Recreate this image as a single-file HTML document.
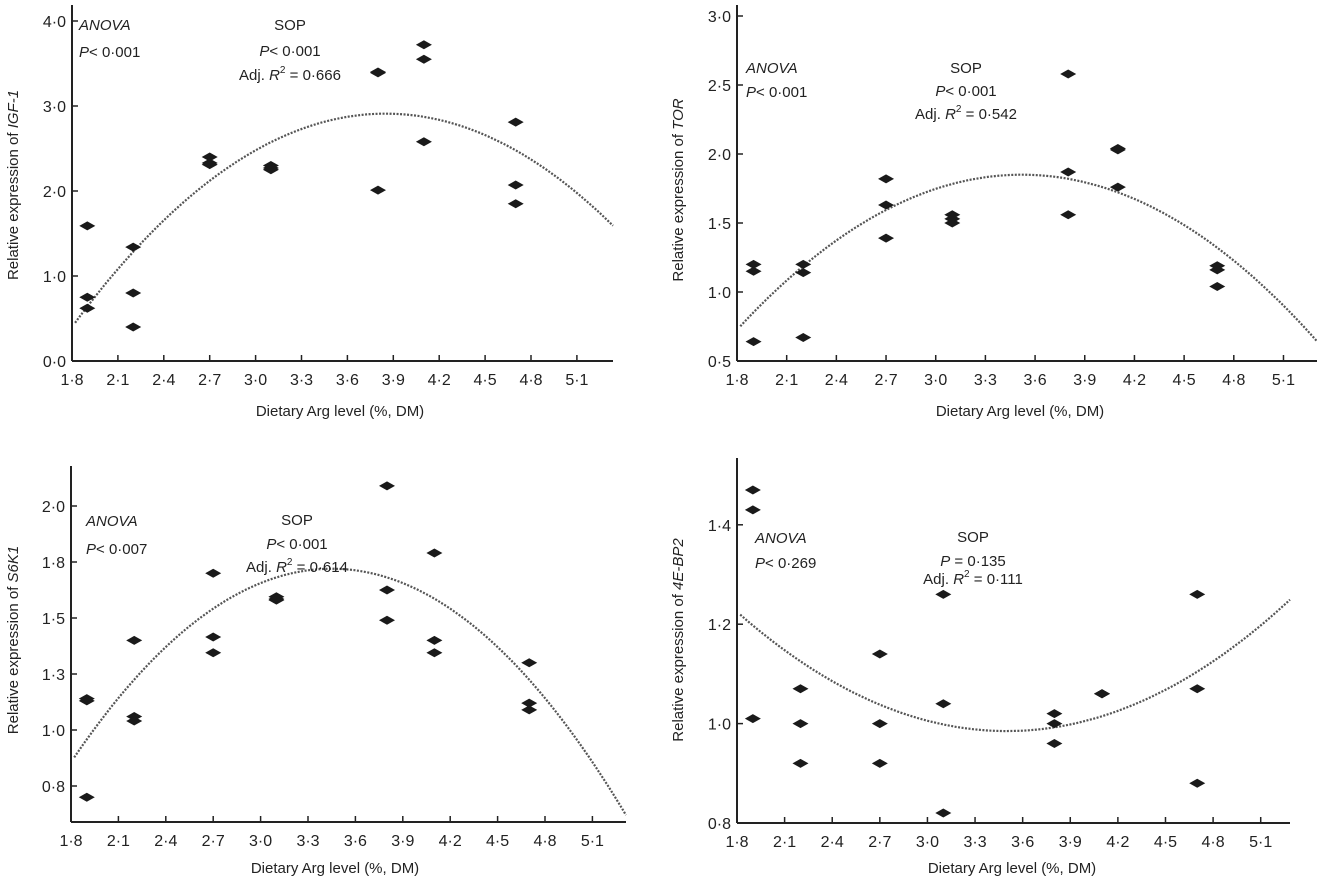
<!DOCTYPE html>
<html><head><meta charset="utf-8">
<style>
body{margin:0;background:#fff;}
svg{display:block;font-family:"Liberation Sans",sans-serif;}
text{fill:#222;}
</style></head>
<body>
<svg id="fig" width="1317" height="881" viewBox="0 0 1317 881"></svg>
<script>
// x categories shared by all panels
const argLevels = [1.9, 2.2, 2.7, 3.1, 3.8, 4.1, 4.7];
const xTickLabels = ["1·8","2·1","2·4","2·7","3·0","3·3","3·6","3·9","4·2","4·5","4·8","5·1"];
const xTickValues = [1.8,2.1,2.4,2.7,3.0,3.3,3.6,3.9,4.2,4.5,4.8,5.1];
// IGF-1 values (3 replicates per level)
const igf1Values = [[1.59,0.75,0.62],[1.34,0.80,0.40],[2.40,2.33,2.31],[2.30,2.27,2.25],[3.40,3.39,2.01],[3.72,3.55,2.58],[2.81,2.07,1.85]];
const igf1Fit = [-0.597, 3.85, 2.91];
const igf1Ticks = [0,1,2,3,4];
const igf1TickLabels = ["0·0","1·0","2·0","3·0","4·0"];
// TOR
const torValues = [[1.20,1.15,0.64],[1.20,1.14,0.67],[1.82,1.63,1.39],[1.56,1.53,1.50],[2.58,1.87,1.56],[2.04,2.03,1.76],[1.19,1.16,1.04]];
const torFit = [-0.38, 3.52, 1.85];
const torTicks = [0.5,1.0,1.5,2.0,2.5,3.0];
const torTickLabels = ["0·5","1·0","1·5","2·0","2·5","3·0"];
// S6K1
const s6k1Values = [[1.14,1.13,0.70],[1.40,1.06,1.04],[1.70,1.415,1.345],[1.595,1.585,1.58],[2.09,1.625,1.49],[1.79,1.40,1.345],[1.30,1.12,1.09]];
const s6k1Fit = [-0.317, 3.45, 1.72];
const s6k1Ticks = [0.75,1.0,1.25,1.5,1.75,2.0];
const s6k1TickLabels = ["0·8","1·0","1·3","1·5","1·8","2·0"];
// 4E-BP2
const bp2Values = [[1.47,1.43,1.01],[1.07,1.00,0.92],[1.14,1.00,0.92],[1.26,1.04,0.82],[1.02,1.00,0.96],[1.06,1.06,1.06],[1.26,1.07,0.88]];
const bp2Fit = [0.083, 3.5, 0.985];
const bp2Ticks = [0.8,1.0,1.2,1.4];
const bp2TickLabels = ["0·8","1·0","1·2","1·4"];

const NS="http://www.w3.org/2000/svg";
const svg=document.getElementById('fig');
function el(tag,attrs,parent){const e=document.createElementNS(NS,tag);for(const k in attrs)e.setAttribute(k,attrs[k]);(parent||svg).appendChild(e);return e;}

const panels=[
 {key:'igf1',gene:'IGF-1',vals:igf1Values,fit:igf1Fit,ticks:igf1Ticks,tl:igf1TickLabels,
  ox:72,oy:361,xs:153,y0:0,ys:85,top:5,xend:613,
  anova:[79,30,'P< 0·001',57],sop:[290,30,'<','0·001',56,'0·666',80],ytx:18,yty:185,xtx:340,xty:416},
 {key:'tor',gene:'TOR',vals:torValues,fit:torFit,ticks:torTicks,tl:torTickLabels,
  ox:737,oy:361,xs:165.6,y0:0.5,ys:138,top:5,xend:1317,
  anova:[746,73,'P< 0·001',97],sop:[966,73,'<','0·001',96,'0·542',119],ytx:683,yty:190,xtx:1020,xty:416},
 {key:'s6k1',gene:'S6K1',vals:s6k1Values,fit:s6k1Fit,ticks:s6k1Ticks,tl:s6k1TickLabels,
  ox:71,oy:822,xs:158,y0:1.0,yref:730,ys:224,top:466,xend:626,
  anova:[86,526,'P< 0·007',554],sop:[297,525,'<','0·001',549,'0·614',572],ytx:18,yty:640,xtx:335,xty:873},
 {key:'bp2',gene:'4E-BP2',vals:bp2Values,fit:bp2Fit,ticks:bp2Ticks,tl:bp2TickLabels,
  ox:737,oy:823,xs:158.7,y0:0.8,ys:497,top:458,xend:1290,
  anova:[755,543,'P< 0·269',568],sop:[973,542,'=','0·135',566,'0·111',584],ytx:683,yty:640,xtx:1012,xty:873}
];

panels.forEach(p=>{
 const g=el('g',{});
 
 
 const X=v=>p.ox+(v-1.8)*p.xs;
 const Y=v=>p.yref!==undefined? p.yref-(v-p.y0)*p.ys : p.oy-(v-p.y0)*p.ys;
 const ya=el('line',{x1:p.ox,y1:p.top,x2:p.ox,y2:p.oy,stroke:'#222','stroke-width':2},g);
 
 const xa=el('line',{x1:p.ox,y1:p.oy,x2:p.xend,y2:p.oy,stroke:'#222','stroke-width':2},g);
 
 xTickValues.forEach((v,i)=>{
  el('line',{x1:X(v),y1:p.oy,x2:X(v),y2:p.oy-6,stroke:'#222','stroke-width':1.5},g);
  const t=el('text',{x:X(v),y:p.oy+24,'text-anchor':'middle','font-size':16},g);
  t.textContent=xTickLabels[i];
  
 });
 p.ticks.forEach((v,i)=>{
  el('line',{x1:p.ox,y1:Y(v),x2:p.ox+6,y2:Y(v),stroke:'#222','stroke-width':1.5},g);
  const t=el('text',{x:p.ox-6,y:Y(v)+6,'text-anchor':'end','font-size':16},g);
  t.textContent=p.tl[i];
  
 });
 let d='';
 const xmax=1.8+(p.xend-p.ox)/p.xs;
 for(let k=0;k<=120;k++){const xv=1.82+(xmax-1.82)*k/120;const yv=p.fit[0]*(xv-p.fit[1])**2+p.fit[2];d+=(k?'L':'M')+X(xv).toFixed(1)+','+Y(yv).toFixed(1);}
 const c=el('path',{d:d,fill:'none',stroke:'#555','stroke-width':2.2,'stroke-dasharray':'2 1.5'},g);
 
 p.vals.forEach((arr,i)=>arr.forEach(v=>{
  const cx=X(argLevels[i]),cy=Y(v);
  const m=el('polygon',{points:`${cx-8},${cy} ${cx},${cy-4.5} ${cx+8},${cy} ${cx},${cy+4.5}`,fill:'#1a1a1a'},g);
  
 }));
 const a1=el('text',{x:p.anova[0],y:p.anova[1],'font-size':15,'font-style':'italic'},g);a1.textContent='ANOVA';
 
 const a2=el('text',{x:p.anova[0],y:p.anova[3],'font-size':15},g);
 a2.innerHTML='<tspan font-style="italic">P</tspan>'+p.anova[2].slice(1);
 
 const s1=el('text',{x:p.sop[0],y:p.sop[1],'font-size':15,'text-anchor':'middle'},g);s1.textContent='SOP';
 
 const s2=el('text',{x:p.sop[0],y:p.sop[4],'font-size':15,'text-anchor':'middle'},g);
 s2.innerHTML='<tspan font-style="italic">P</tspan>'+(p.sop[2]=='<'?'&lt; ':' = ')+p.sop[3];
 
 const s3=el('text',{x:p.sop[0],y:p.sop[6],'font-size':15,'text-anchor':'middle'},g);
 s3.innerHTML='Adj. <tspan font-style="italic">R</tspan><tspan dy="-7" font-size="10">2</tspan><tspan dy="7"> = '+p.sop[5]+'</tspan>';
 
 const yt=el('text',{x:0,y:0,'font-size':15,'text-anchor':'middle',transform:`translate(${p.ytx},${p.yty}) rotate(-90)`},g);
 yt.innerHTML='Relative expression of <tspan font-style="italic">'+p.gene+'</tspan>';
 
 const xt=el('text',{x:p.xtx,y:p.xty,'font-size':15,'text-anchor':'middle'},g);xt.textContent='Dietary Arg level (%, DM)';
 
});
</script>
</body></html>
